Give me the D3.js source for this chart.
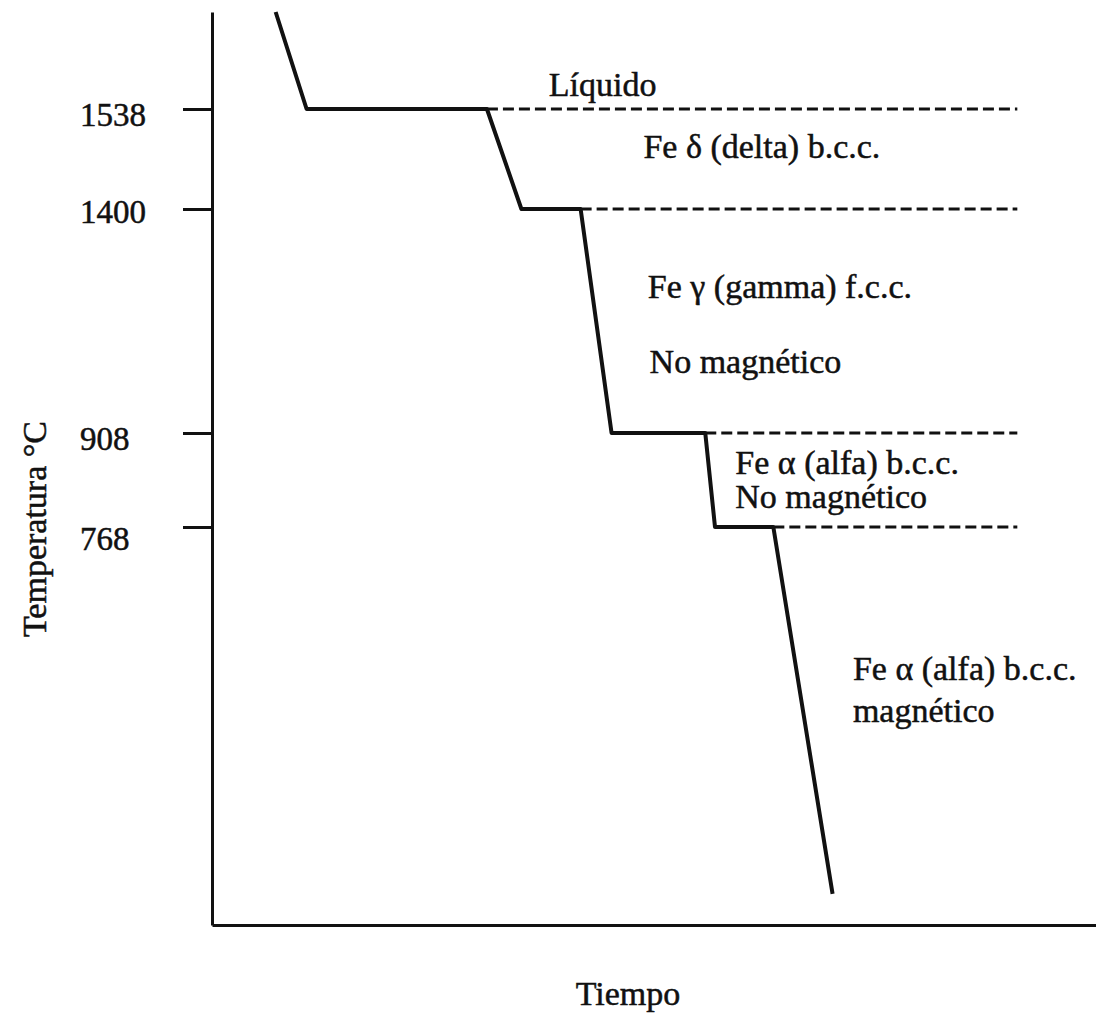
<!DOCTYPE html>
<html>
<head>
<meta charset="utf-8">
<script src="https://cdn.jsdelivr.net/npm/d3@7"></script>
<style>
  html, body { margin: 0; padding: 0; background: #fff; }
  svg { display: block; }
  text { font-family: "Liberation Serif", "Times New Roman", serif; fill: #111; stroke: #111; stroke-width: 0.5px; }
</style>
</head>
<body>
<svg id="chart" width="1096" height="1015"></svg>
<script>
// ---- data ----
const tickTemps = [1538, 1400, 908, 768];
const tickLabels = ["1538", "1400", "908", "768"];
const coolTime = [7.2, 10.7, 31.1, 35.0, 41.7, 45.2, 55.8, 56.9, 63.5, 70.2];
const coolTemp = [1670, 1538, 1538, 1400, 1400, 908, 908, 768, 768, 60];
const dashStartTime = [31.1, 41.7, 55.8, 63.5];
const dashEndTime = 91.1;
const phaseText = ["Líquido", "Fe δ (delta) b.c.c.", "Fe γ (gamma) f.c.c.", "No magnético",
                   "Fe α (alfa) b.c.c.", "No magnético", "Fe α (alfa) b.c.c.", "magnético"];
const phaseTime = [38.1, 48.8, 49.3, 49.5, 59.2, 59.2, 72.5, 72.5];
const phaseTemp = [1556, 1470, 1204, 1040, 847, 796, 473, 392];
const xTitle = "Tiempo";
const yTitle = "Temperatura °C";

// ---- layout ----
const svg = d3.select("#chart");
const mLeft = 212, mRight = 1096, mTop = 12, mBottom = 925;

const x = d3.scaleLinear().domain([0, 100]).range([mLeft, mRight]);
// schematic (non-uniform) temperature axis: piecewise-linear scale
const y = d3.scaleLinear()
  .domain([0, 768, 908, 1400, 1538, 1670])
  .range([mBottom, 527, 433, 209, 109, mTop]);

// y axis
const yAxis = svg.append("g")
  .attr("transform", `translate(${mLeft},0)`)
  .call(d3.axisLeft(y).tickValues(tickTemps).tickFormat((d, i) => tickLabels[i])
        .tickSize(29).tickSizeOuter(0));
yAxis.select(".domain").attr("stroke", "#111").attr("stroke-width", 3);
yAxis.selectAll(".tick line").attr("stroke", "#111").attr("stroke-width", 3);
yAxis.selectAll(".tick text")
  .attr("text-anchor", "start")
  .attr("x", -132)
  .attr("dy", "0.38em")
  .attr("font-size", 33)
  .style("font-family", "'Liberation Serif', serif")
  .attr("fill", "#111")
  .attr("transform", (d, i) => `translate(0,${[4, 1, 4, 10][i]})`);

// x axis
const xAxis = svg.append("g")
  .attr("transform", `translate(0,${mBottom})`)
  .call(d3.axisBottom(x).tickValues([]).tickSizeOuter(0));
xAxis.select(".domain").attr("stroke", "#111").attr("stroke-width", 3);

// dashed transition lines
svg.append("g").selectAll("line")
  .data(tickTemps)
  .join("line")
  .attr("x1", (d, i) => x(dashStartTime[i]))
  .attr("x2", x(dashEndTime))
  .attr("y1", d => y(d))
  .attr("y2", d => y(d))
  .attr("stroke", "#111")
  .attr("stroke-width", 3)
  .attr("stroke-dasharray", "11,5");

// cooling curve
const pts = coolTime.map((t, i) => [t, coolTemp[i]]);
svg.append("path")
  .datum(pts)
  .attr("fill", "none")
  .attr("stroke", "#111")
  .attr("stroke-width", 4)
  .attr("stroke-linejoin", "round")
  .attr("d", d3.line().x(d => x(d[0])).y(d => y(d[1])));

// phase annotations
svg.append("g").selectAll("text")
  .data(phaseText)
  .join("text")
  .attr("x", (d, i) => x(phaseTime[i]))
  .attr("y", (d, i) => y(phaseTemp[i]))
  .attr("font-size", 34)
  .text(d => d);

// axis titles
svg.append("text")
  .attr("x", 628)
  .attr("y", 1005)
  .attr("text-anchor", "middle")
  .attr("font-size", 34)
  .text(xTitle);

svg.append("text")
  .attr("transform", `translate(46,529) rotate(-90)`)
  .attr("text-anchor", "middle")
  .attr("font-size", 34)
  .text(yTitle);
</script>
</body>
</html>
